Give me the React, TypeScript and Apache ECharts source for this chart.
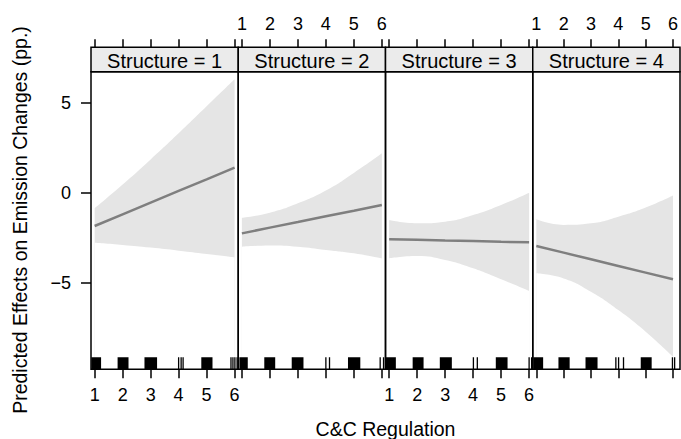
import React, { useEffect, useRef } from "react";
import * as echarts from "echarts";

const panelLabels = ["Structure = 1", "Structure = 2", "Structure = 3", "Structure = 4"];
const xValues = [1, 2, 3, 4, 5, 6];
const xTicks = [1, 2, 3, 4, 5, 6];
const yTicks = [-5, 0, 5];

const fit1 = [-1.85, -1.2, -0.55, 0.1, 0.74, 1.39];
const upper1 = [-0.87, 0.45, 1.85, 3.3, 4.8, 6.3];
const lower1 = [-2.78, -2.9, -3.05, -3.22, -3.4, -3.59];

const fit2 = [-2.26, -1.94, -1.63, -1.31, -1.0, -0.68];
const upper2 = [-1.39, -1.11, -0.59, 0.12, 1.1, 2.19];
const lower2 = [-3.0, -2.93, -3.0, -3.18, -3.37, -3.65];

const fit3 = [-2.59, -2.62, -2.66, -2.69, -2.73, -2.76];
const upper3 = [-1.52, -1.7, -1.61, -1.24, -0.68, 0.0];
const lower3 = [-3.65, -3.52, -3.74, -4.2, -4.81, -5.46];

const fit4 = [-2.96, -3.33, -3.7, -4.07, -4.44, -4.81];
const upper4 = [-1.48, -1.79, -1.7, -1.33, -0.82, -0.15];
const lower4 = [-4.48, -4.76, -5.5, -6.52, -7.72, -9.11];

// rug: dense clusters [from, to] and single marks
const rugBlocks1 = [[0.88, 1.23], [1.82, 2.21], [2.78, 3.23], [4.81, 5.21]];
const rugMarks1 = [4.0, 4.09, 4.16, 5.87, 5.94, 6.01, 6.09];
const rugBlocks2 = [[0.91, 1.21], [1.8, 2.19], [2.78, 3.2], [4.79, 5.23]];
const rugMarks2 = [4.0, 4.13, 5.94, 6.06];
const rugBlocks3 = [[0.88, 1.24], [1.84, 2.23], [2.81, 3.24], [4.81, 5.23]];
const rugMarks3 = [4.01, 4.15, 6.0, 6.09];
const rugBlocks4 = [[0.89, 1.25], [1.81, 2.22], [2.8, 3.24], [4.82, 5.22]];
const rugMarks4 = [3.91, 4.01, 4.19, 5.98, 6.06];

const fits = [fit1, fit2, fit3, fit4];
const uppers = [upper1, upper2, upper3, upper4];
const lowers = [lower1, lower2, lower3, lower4];
const rugBlocks = [rugBlocks1, rugBlocks2, rugBlocks3, rugBlocks4];
const rugMarks = [rugMarks1, rugMarks2, rugMarks3, rugMarks4];

const FONT = "'Liberation Sans', Arial, Helvetica, sans-serif";

export default function App() {
  const ref = useRef<HTMLDivElement>(null);

  useEffect(() => {
    if (!ref.current) return;
    const chart = echarts.init(ref.current, undefined, { renderer: "svg" });

    const left0 = 91;
    const panelW = 147.25;
    const top = 71.7;
    const height = 297.6;
    const stripTop = 47.3;
    const stripH = top - stripTop;
    const yMin = -9.81;
    const yMax = 6.72;
    const xMin = 0.87;
    const xMax = 6.13;

    const grids: any[] = [];
    const xAxes: any[] = [];
    const yAxes: any[] = [];
    const series: any[] = [];
    const graphics: any[] = [];

    for (let i = 0; i < 4; i++) {
      const gl = left0 + i * panelW;
      grids.push({ left: gl, top, width: panelW, height, show: false, containLabel: false });
      // bottom axis
      xAxes.push({
        type: "value",
        gridIndex: i,
        position: "bottom",
        min: xMin,
        max: xMax,
        axisLine: { show: false, onZero: false },
        splitLine: { show: false },
        axisTick: {
          show: true,
          length: 9,
          customValues: xTicks,
          lineStyle: { color: "#000", width: 1.5 },
        },
        axisLabel: {
          show: i === 0 || i === 2,
          customValues: xTicks,
          margin: 17,
          color: "#000",
          fontSize: 18,
          fontFamily: FONT,
        },
      });
      // top axis
      xAxes.push({
        type: "value",
        gridIndex: i,
        position: "top",
        offset: stripH,
        min: xMin,
        max: xMax,
        axisLine: { show: false, onZero: false },
        splitLine: { show: false },
        axisTick: {
          show: true,
          length: 8,
          customValues: xTicks,
          lineStyle: { color: "#000", width: 1.5 },
        },
        axisLabel: {
          show: i === 1 || i === 3,
          customValues: xTicks,
          margin: 14,
          color: "#000",
          fontSize: 18,
          fontFamily: FONT,
        },
      });
      yAxes.push({
        type: "value",
        gridIndex: i,
        min: yMin,
        max: yMax,
        position: "left",
        axisLine: { show: false, onZero: false },
        splitLine: { show: false },
        axisTick: {
          show: i === 0,
          length: 10,
          customValues: yTicks,
          lineStyle: { color: "#000", width: 1.5 },
        },
        axisLabel: {
          show: i === 0,
          customValues: yTicks,
          margin: 20,
          color: "#000",
          fontSize: 18,
          fontFamily: FONT,
          formatter: (v: number) => (v < 0 ? "\u2212" + Math.abs(v) : String(v)),
        },
      });

      const xa = i * 2;
      series.push({
        type: "line",
        xAxisIndex: xa,
        yAxisIndex: i,
        data: xValues.map((x, k) => [x, uppers[i][k]]),
        smooth: 0.5,
        symbol: "none",
        lineStyle: { width: 0, opacity: 0 },
        areaStyle: { color: "#e5e5e5", opacity: 1, origin: "start" },
        z: 1,
        silent: true,
      });
      series.push({
        type: "line",
        xAxisIndex: xa,
        yAxisIndex: i,
        data: xValues.map((x, k) => [x, lowers[i][k]]),
        smooth: 0.5,
        symbol: "none",
        lineStyle: { width: 0, opacity: 0 },
        areaStyle: { color: "#ffffff", opacity: 1, origin: "start" },
        z: 2,
        silent: true,
      });
      series.push({
        type: "line",
        xAxisIndex: xa,
        yAxisIndex: i,
        data: xValues.map((x, k) => [x, fits[i][k]]),
        symbol: "none",
        lineStyle: { color: "#7f7f7f", width: 2.5 },
        z: 3,
        silent: true,
      });
      const rugData = [
        ...rugBlocks[i].map((b) => [b[0], b[1]]),
        ...rugMarks[i].map((m) => [m, m]),
      ];
      series.push({
        type: "custom",
        xAxisIndex: xa,
        yAxisIndex: i,
        data: rugData,
        encode: { x: [0, 1] },
        clip: true,
        z: 4,
        silent: true,
        renderItem: (params: any, api: any) => {
          const a = api.value(0);
          const b = api.value(1);
          const p0 = api.coord([a, yMin]);
          const p1 = api.coord([b, yMin]);
          const w = Math.max(p1[0] - p0[0], 1.3);
          const x = a === b ? p0[0] - 0.65 : p0[0];
          return {
            type: "rect",
            shape: { x, y: p0[1] - 12, width: w, height: 12 },
            style: { fill: "#000" },
          };
        },
      });

      // strip
      graphics.push({
        type: "rect",
        shape: { x: gl, y: stripTop, width: panelW, height: stripH },
        style: { fill: "#ebebeb", stroke: "#000", lineWidth: 1.5 },
        z: 100,
      });
      graphics.push({
        type: "text",
        x: gl + panelW / 2,
        y: stripTop + stripH / 2 + 1,
        style: {
          text: panelLabels[i],
          fontSize: 20,
          fontFamily: FONT,
          fill: "#000",
          align: "center",
          verticalAlign: "middle",
        },
        z: 101,
      });
      // panel border
      graphics.push({
        type: "rect",
        shape: { x: gl, y: top, width: panelW, height },
        style: { fill: "none", stroke: "#000", lineWidth: 1.5 },
        z: 100,
      });
    }

    graphics.push({
      type: "text",
      x: 20,
      y: 220,
      rotation: Math.PI / 2,
      style: {
        text: "Predicted Effects on Emission Changes (pp.)",
        fontSize: 19.5,
        fontFamily: FONT,
        fill: "#000",
        align: "center",
        verticalAlign: "middle",
      },
      z: 101,
    });
    graphics.push({
      type: "text",
      x: 385.5,
      y: 429,
      style: {
        text: "C&C Regulation",
        fontSize: 19.5,
        fontFamily: FONT,
        fill: "#000",
        align: "center",
        verticalAlign: "middle",
      },
      z: 101,
    });

    chart.setOption({
      animation: false,
      backgroundColor: "#ffffff",
      grid: grids,
      xAxis: xAxes,
      yAxis: yAxes,
      series,
      graphic: graphics,
    });

    return () => chart.dispose();
  }, []);

  return (
    <div
      ref={ref}
      style={{ position: "absolute", left: 0, top: 0, width: 681, height: 439 }}
    />
  );
}
